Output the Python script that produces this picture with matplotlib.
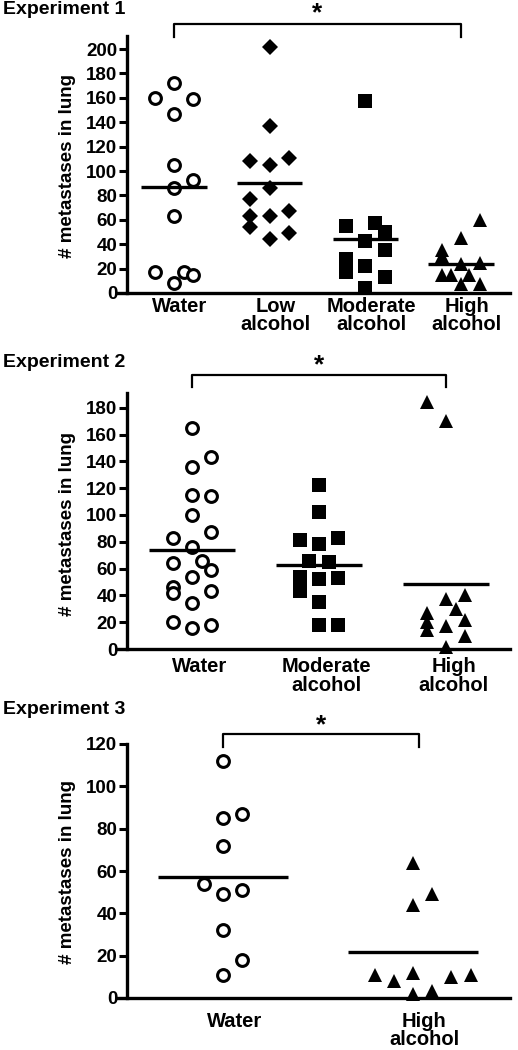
import matplotlib
matplotlib.use("Agg")
import matplotlib.pyplot as plt

plt.rcParams["font.family"] = ["Liberation Sans", "DejaVu Sans"]
plt.rcParams["font.weight"] = "bold"

# ---- data ----
# Experiment 1
exp1_groups = ["Water", "Low\nalcohol", "Moderate\nalcohol", "High\nalcohol"]
exp1_water = [172, 160, 159, 147, 105, 93, 86, 63, 17, 8, 17, 15]
exp1_low = [202, 137, 108, 105, 111, 86, 77, 63, 63, 67, 54, 49, 44]
exp1_mod = [157, 55, 57, 50, 43, 35, 28, 17, 22, 13, 4]
exp1_high = [60, 45, 35, 30, 24, 25, 15, 15, 15, 7, 7]
exp1_means = [87, 90, 44, 24]

# Experiment 2
exp2_groups = ["Water", "Moderate\nalcohol", "High\nalcohol"]
exp2_water = [165, 143, 136, 115, 114, 100, 87, 83, 76, 64, 66, 59, 54, 46, 42, 43, 34, 20, 16, 18]
exp2_mod = [122, 102, 81, 83, 78, 66, 65, 54, 53, 52, 43, 35, 18, 18]
exp2_high = [184, 170, 37, 40, 30, 27, 20, 14, 17, 22, 10, 1.5]
exp2_means = [74, 62.5, 48.5]

# Experiment 3
exp3_groups = ["Water", "High\nalcohol"]
exp3_water = [112, 85, 87, 72, 54, 49, 51, 32, 18, 11]
exp3_high = [64, 49, 44, 11, 8, 12, 10, 11, 2, 3.5]
exp3_means = [57, 21.5]

# horizontal scatter columns (in units of one marker spacing)
exp1_jit = [
    [0, -1, 1, 0, 0, 1, 0, 0, -1, 0, 0.5, 1],
    [0, 0, -1, 0, 1, 0, -1, -1, 0, 1, -1, 1, 0],
    [0, -1, 0.5, 1, 0, 1, -1, -1, 0, 1, 0],
    [1, 0, -1, -1, 0, 1, -1, -0.5, 0.4, 0, 1],
]
exp2_jit = [
    [0, 1, 0, 0, 1, 0, 1, -1, 0, -1, 0.5, 1, 0, -1, -1, 1, 0, -1, 0, 1],
    [0, 0, -1, 1, 0, -0.5, 0.5, -1, 1, 0, -1, 0, 0, 1],
    [-1, 0, 0, 1, 0.5, -1, -1, -1, 0, 1, 1, 0],
]
exp3_jit = [
    [0, 0, 1, 0, -1, 0, 1, 0, 1, 0],
    [0, 1, 0, -2, -1, 0, 2, 3, 0, 1],
]

W, H = 518, 1050
fig = plt.figure(figsize=(W / 100, H / 100), dpi=100)

styles = {
    "circle": dict(marker="o", ms=8.5, mfc="white", mec="black", mew=2.2),
    "diamond": dict(marker="D", ms=8, mfc="black", mec="black", mew=0),
    "square": dict(marker="s", ms=9.5, mfc="black", mec="black", mew=0),
    "triangle": dict(marker="^", ms=10, mfc="black", mec="black", mew=0),
}


def panel(top, bottom, ymax, yticks, cat_px, groups, values, jits, means, kinds,
          title, title_y, label_pad, bracket, ylab_y):
    left, right = 118, 510
    ax = fig.add_axes([left / W, 1 - bottom / H, (right - left) / W, (bottom - top) / H])
    spacing = (cat_px[-1] - cat_px[0]) / (len(cat_px) - 1)
    x0 = cat_px[0]
    ax.set_xlim((left - x0) / spacing, (right - x0) / spacing)
    ax.set_ylim(0, ymax)
    step = 19.2 / spacing
    for i, (vals, jit, kind) in enumerate(zip(values, jits, kinds)):
        xs = [i + j * step for j in jit]
        ax.plot(xs, vals, linestyle="none", clip_on=False, zorder=3, **styles[kind])
        ax.hlines(means[i], i - 0.34, i + 0.34, color="black", lw=2.4, zorder=4)
    for s in ["top", "right"]:
        ax.spines[s].set_visible(False)
    ax.spines["left"].set_position(("axes", (127 - left) / (right - left)))
    ax.spines["left"].set_linewidth(2.4)
    ax.spines["bottom"].set_linewidth(2.4)
    ax.set_yticks(yticks)
    ax.tick_params(axis="y", length=6, width=2.2, pad=1, labelsize=13.5)
    ax.set_xticks([i + 0.06 for i in range(len(groups))])
    ax.set_xticklabels(groups, fontsize=14.5, fontweight="bold", linespacing=0.95)
    ax.tick_params(axis="x", length=0, pad=label_pad)
    for t in ax.get_yticklabels():
        t.set_fontweight("bold")
    fig.text(68 / W, 1 - ylab_y / H, "# metastases in lung", rotation=90,
             ha="center", va="center", fontsize=13.5, fontweight="bold")
    fig.text(3 / W, 1 - title_y / H, title, ha="left", va="center",
             fontsize=14, fontweight="bold")
    # significance bracket
    a, b, ytop, yleg, ystar = bracket
    ax.plot([a, a, b, b], [yleg, ytop, ytop, yleg], color="black", lw=1.6,
            clip_on=False)
    ax.text((a + b) / 2, ystar, "*", ha="center", va="center", fontsize=19,
            fontweight="bold", clip_on=False)
    return ax


panel(35.6, 293, 211, range(0, 201, 20), [174, 270, 366, 461], exp1_groups,
      [exp1_water, exp1_low, exp1_mod, exp1_high], exp1_jit, exp1_means,
      ["circle", "diamond", "square", "triangle"], "Experiment 1", 10, 3,
      (0, 3, 220.5, 210, 229), 166)

panel(393, 649, 191, range(0, 181, 20), [192, 319, 446], exp2_groups,
      [exp2_water, exp2_mod, exp2_high], exp2_jit, exp2_means,
      ["circle", "square", "triangle"], "Experiment 2", 363, 6,
      (0, 2, 204.6, 195.7, 212), 524)

panel(744, 998, 120, range(0, 121, 20), [223, 413], exp3_groups,
      [exp3_water, exp3_high], exp3_jit, exp3_means,
      ["circle", "triangle"], "Experiment 3", 710, 10,
      (0, 1.03, 124.7, 118.6, 129), 872)

fig.savefig("out.png", dpi=100)
